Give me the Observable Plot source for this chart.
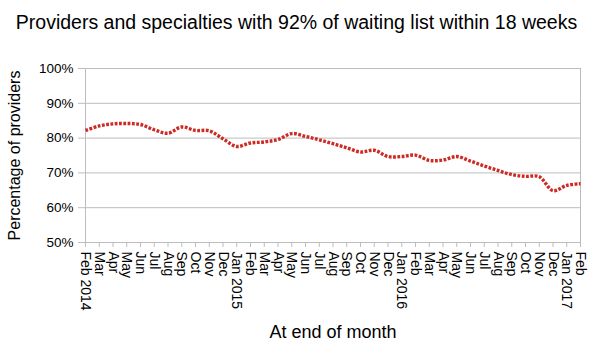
<!DOCTYPE html>
<html>
<head>
<meta charset="utf-8">
<script src="https://cdn.jsdelivr.net/npm/d3@7"></script>
<script src="https://cdn.jsdelivr.net/npm/@observablehq/plot@0.6"></script>
<style>
  html, body { margin: 0; padding: 0; background: #fff; }
  #chart svg { display: block; }
</style>
</head>
<body>
<div id="chart"></div>
<script>
const title = "Providers and specialties with 92% of waiting list within 18 weeks";
const yLabel = "Percentage of providers";
const xLabel = "At end of month";

const monthLabels = [
  "Feb 2014","Mar","Apr","May","Jun","Jul","Aug","Sep","Oct","Nov","Dec",
  "Jan 2015","Feb","Mar","Apr","May","Jun","Jul","Aug","Sep","Oct","Nov","Dec",
  "Jan 2016","Feb","Mar","Apr","May","Jun","Jul","Aug","Sep","Oct","Nov","Dec",
  "Jan 2017","Feb"
];
const percentValues = [
  82.2, 83.5, 84.1, 84.2, 83.9, 82.4, 81.4, 83.2, 82.2, 82.1, 79.8,
  77.6, 78.6, 78.9, 79.6, 81.3, 80.5, 79.5, 78.4, 77.2, 76.0, 76.5, 74.7,
  74.7, 75.1, 73.6, 73.7, 74.7, 73.4, 72.0, 70.7, 69.5, 69.0, 68.9, 64.9,
  66.4, 66.9
];
const yTicks = [50, 60, 70, 80, 90, 100];

const data = percentValues.map((v, i) => ({i, label: monthLabels[i], value: v}));
const gridColor = "#bdbdbd";
const font = "'Liberation Sans', Arial, Helvetica, sans-serif";

const chart = Plot.plot({
  width: 592,
  height: 354,
  marginLeft: 85,
  marginRight: 12,
  marginTop: 68,
  marginBottom: 112,
  style: {fontFamily: font, fontSize: "14px", color: "#000", background: "#fff"},
  x: {type: "linear", domain: [0, monthLabels.length - 1]},
  y: {domain: [50, 100]},
  marks: [
    Plot.ruleY(yTicks, {stroke: gridColor, strokeWidth: 1}),
    Plot.ruleX([0, monthLabels.length - 1], {y1: 50, y2: 100, stroke: gridColor, strokeWidth: 1}),
    Plot.axisY({
      ticks: yTicks, tickSize: 7, tickPadding: 5, stroke: gridColor,
      tickFormat: d => d + "%", label: null, fontSize: 13.5
    }),
    Plot.axisX({
      ticks: d3.range(monthLabels.length), tickSize: 5, tickPadding: 4, stroke: gridColor,
      tickFormat: i => monthLabels[i], tickRotate: 90, label: null, fontSize: 14
    }),
    Plot.line(data, {
      x: "i", y: "value", stroke: "#cc2a22", strokeWidth: 3.4,
      strokeDasharray: "2.8,1.5", strokeLinecap: "butt", strokeLinejoin: "miter",
      curve: "catmull-rom"
    }),
    Plot.text([title], {frameAnchor: "top", dx: -36.5, dy: -46, fontSize: 19.5, lineAnchor: "middle", textAnchor: "middle"}),
    Plot.text([yLabel], {frameAnchor: "left", dx: -71, rotate: -90, fontSize: 16, lineAnchor: "middle", textAnchor: "middle"}),
    Plot.text([xLabel], {frameAnchor: "bottom", dy: 90, fontSize: 18, lineAnchor: "middle", textAnchor: "middle"})
  ]
});
document.getElementById("chart").appendChild(chart);
</script>
</body>
</html>
